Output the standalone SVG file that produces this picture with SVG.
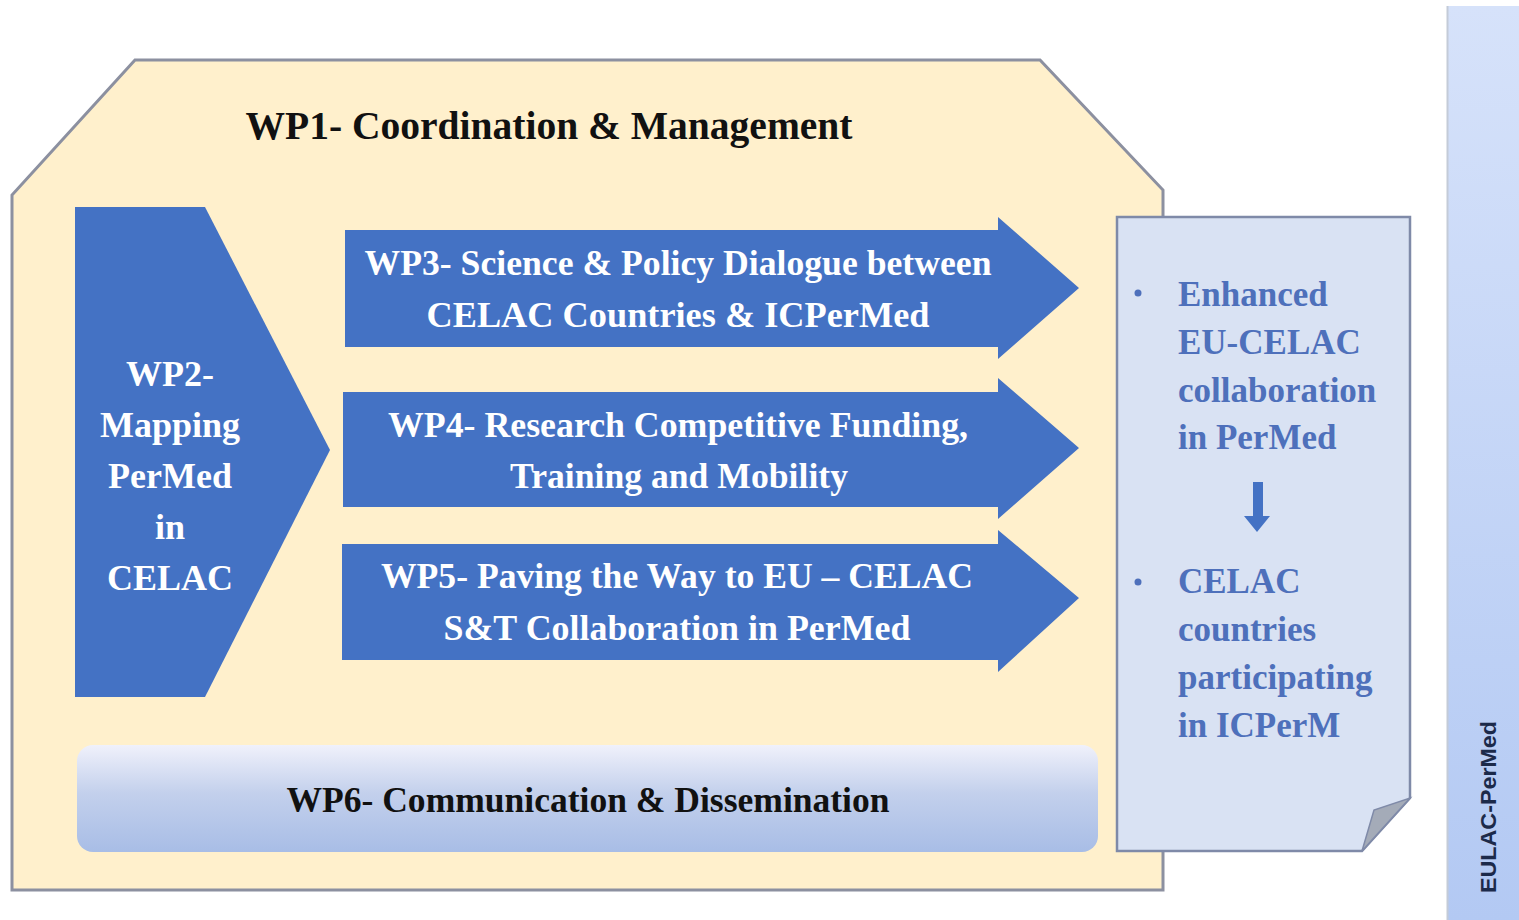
<svg xmlns="http://www.w3.org/2000/svg" width="1519" height="920" viewBox="0 0 1519 920">
<defs>
<linearGradient id="g6" x1="0" y1="0" x2="0" y2="1">
<stop offset="0" stop-color="#f0f1fb"/>
<stop offset="0.45" stop-color="#c3d0ec"/>
<stop offset="1" stop-color="#a8bde6"/>
</linearGradient>
<linearGradient id="gbar" x1="0" y1="0" x2="0" y2="1">
<stop offset="0" stop-color="#d6e2fa"/>
<stop offset="1" stop-color="#b3c9f3"/>
</linearGradient>
<style>
.wp{fill:#4472c4}
.wt{font-family:"Liberation Serif","Times New Roman",serif;font-weight:bold;fill:#ffffff;text-anchor:middle}
.bt{font-family:"Liberation Serif","Times New Roman",serif;font-weight:bold;fill:#111111;text-anchor:middle}
.nt{font-family:"Liberation Serif","Times New Roman",serif;font-weight:bold;fill:#4e70bb;font-size:35px}
</style>
</defs>
<rect width="1519" height="920" fill="#ffffff"/>
<g id="bar">
<rect x="1447" y="6" width="72" height="914" fill="url(#gbar)"/>
<line x1="1447.5" y1="6" x2="1447.5" y2="920" stroke="#c4cbd8" stroke-width="2"/>
<text transform="translate(1496,807) rotate(-90)" font-family="Liberation Sans, Arial, sans-serif" font-size="22" font-weight="bold" fill="#1c2a4a" text-anchor="middle" textLength="172" lengthAdjust="spacingAndGlyphs">EULAC-PerMed</text>
</g>
<g id="wp1">
<polygon points="135,60 1040,60 1163,190 1163,890 12,890 12,195" fill="#fff0cc" stroke="#8c90a0" stroke-width="3"/>
<text class="bt" x="549" y="139" font-size="40" textLength="607" lengthAdjust="spacingAndGlyphs">WP1- Coordination &amp; Management</text>
</g>
<g id="wp2">
<polygon class="wp" points="75,207 205,207 330,450 205,697 75,697"/>
<text class="wt" font-size="36"><tspan x="170" y="386">WP2-</tspan><tspan x="170" y="437">Mapping</tspan><tspan x="170" y="488">PerMed</tspan><tspan x="170" y="539">in</tspan><tspan x="170" y="590">CELAC</tspan></text>
</g>
<g id="wp3">
<polygon class="wp" points="345,230 998,230 998,217 1079,288 998,359 998,347 345,347"/>
<text class="wt" font-size="35"><tspan x="678" y="275" textLength="627" lengthAdjust="spacingAndGlyphs">WP3- Science &amp; Policy Dialogue between</tspan><tspan x="678" y="327" textLength="503" lengthAdjust="spacingAndGlyphs">CELAC  Countries &amp; ICPerMed</tspan></text>
</g>
<g id="wp4">
<polygon class="wp" points="343,392 998,392 998,378 1079,448 998,519 998,507 343,507"/>
<text class="wt" font-size="35"><tspan x="678" y="437" textLength="580" lengthAdjust="spacingAndGlyphs">WP4- Research Competitive Funding,</tspan><tspan x="679" y="488" textLength="338" lengthAdjust="spacingAndGlyphs">Training and Mobility</tspan></text>
</g>
<g id="wp5">
<polygon class="wp" points="342,544 998,544 998,530 1079,598 998,672 998,660 342,660"/>
<text class="wt" font-size="35"><tspan x="677" y="588" textLength="592" lengthAdjust="spacingAndGlyphs">WP5- Paving the Way to EU – CELAC</tspan><tspan x="677" y="640" textLength="467" lengthAdjust="spacingAndGlyphs">S&amp;T Collaboration in PerMed</tspan></text>
</g>
<g id="wp6">
<rect x="77" y="745" width="1021" height="107" rx="16" fill="url(#g6)"/>
<text class="bt" x="588" y="812" font-size="36" textLength="603" lengthAdjust="spacingAndGlyphs">WP6- Communication &amp; Dissemination</text>
</g>
<g id="outcome">
<polygon points="1117,217 1410,217 1410,798 1362,851 1117,851" fill="#d9e2f3" stroke="#7f8aa8" stroke-width="2.5"/>
<polygon points="1362,851 1374,810 1410,798" fill="#a4abb8" stroke="#7f8aa8" stroke-width="1.5"/>
<circle cx="1138" cy="293" r="3.5" fill="#4e70bb"/>
<circle cx="1138" cy="582" r="3.5" fill="#4e70bb"/>
<text class="nt"><tspan x="1178" y="306">Enhanced</tspan><tspan x="1178" y="354">EU-CELAC</tspan><tspan x="1178" y="402">collaboration</tspan><tspan x="1178" y="449">in PerMed</tspan></text>
<text class="nt"><tspan x="1178" y="593">CELAC</tspan><tspan x="1178" y="641">countries</tspan><tspan x="1178" y="689">participating</tspan><tspan x="1178" y="737">in ICPerM</tspan></text>
</g>
<g id="connectors">
<polygon points="1253,482 1263,482 1263,516 1270,516 1257,532 1244,516 1253,516" fill="#4472c4"/>
</g>
</svg>
